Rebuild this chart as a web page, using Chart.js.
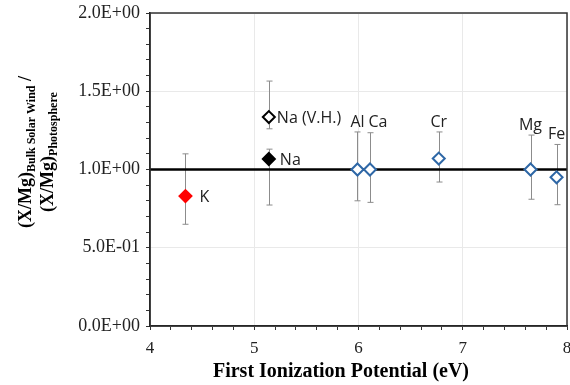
<!DOCTYPE html>
<html>
<head>
<meta charset="utf-8">
<script src="https://cdn.jsdelivr.net/npm/chart.js@4.4.1/dist/chart.umd.min.js"></script>
<style>
  html, body { margin: 0; padding: 0; background: #fff; overflow: hidden; }
  #wrap { width: 570px; height: 385px; overflow: hidden; }
</style>
</head>
<body>
<div id="wrap"><canvas id="fipChart" width="575" height="385"></canvas></div>
<script>
// data
const elements = ['K', 'Na (V.H.)', 'Na', 'Al', 'Ca', 'Cr', 'Mg', 'Fe'];
const fip = [4.34, 5.14, 5.14, 5.99, 6.11, 6.77, 7.65, 7.90];
const ratio = [0.83, 1.335, 1.067, 1.00, 1.00, 1.07, 1.00, 0.95];
const errHigh = [1.10, 1.565, 1.13, 1.24, 1.235, 1.24, 1.22, 1.16];
const errLow = [0.65, 1.26, 0.773, 0.80, 0.79, 0.92, 0.81, 0.775];
const refLine = [1, 1];
const refX = [4, 8];
const xTickLabels = ['4', '5', '6', '7', '8'];
const yTickLabels = ['0.0E+00', '5.0E-01', '1.0E+00', '1.5E+00', '2.0E+00'];
const xTitle = 'First Ionization Potential (eV)';

// marker styling per point
const markerFill = ['#ff0000', '#ffffff', '#000000', '#ffffff', '#ffffff', '#ffffff', '#ffffff', '#ffffff'];
const markerLine = ['#ff0000', '#000000', '#000000', '#2e67a6', '#2e67a6', '#2e67a6', '#2e67a6', '#2e67a6'];
// label placement: 'right' of marker or 'top' over the error bar
const labelPos = [
    { side: 'right', dx: 14 },
    { side: 'right', dx: 8 },
    { side: 'right', dx: 11 },
    { side: 'top', dx: 0 },
    { side: 'top', dx: 8 },
    { side: 'top', dx: 0 },
    { side: 'top', dx: 0 },
    { side: 'top', dx: 0 }
];

const isMajor = (v, step) => Math.abs(v / step - Math.round(v / step)) < 1e-6;

// error bars under the markers
const errorBars = {
    id: 'errorBars',
    beforeDatasetsDraw(chart) {
        const { ctx, scales: { x, y } } = chart;
        ctx.save();
        ctx.strokeStyle = '#8c8c8c';
        ctx.lineWidth = 1;
        fip.forEach((v, i) => {
            const px = Math.round(x.getPixelForValue(v)) + 0.5;
            const top = y.getPixelForValue(errHigh[i]);
            const bot = y.getPixelForValue(errLow[i]);
            ctx.beginPath();
            ctx.moveTo(px, top); ctx.lineTo(px, bot);
            ctx.moveTo(px - 3, top); ctx.lineTo(px + 3, top);
            ctx.moveTo(px - 3, bot); ctx.lineTo(px + 3, bot);
            ctx.stroke();
        });
        ctx.restore();
    }
};

// element names, box, axis titles
const decorations = {
    id: 'decorations',
    afterDatasetsDraw(chart) {
        const { ctx, chartArea: a, scales: { x, y } } = chart;
        ctx.save();
        ctx.font = '16px "Open Sans", "Liberation Sans", sans-serif';
        ctx.fillStyle = '#222';
        elements.forEach((name, i) => {
            const px = x.getPixelForValue(fip[i]);
            const lp = labelPos[i];
            if (lp.side === 'right') {
                ctx.textAlign = 'left';
                ctx.textBaseline = 'middle';
                ctx.fillText(name, px + lp.dx, y.getPixelForValue(ratio[i]) + 1);
            } else {
                ctx.textAlign = 'center';
                ctx.textBaseline = 'middle';
                ctx.fillText(name, px + lp.dx, y.getPixelForValue(errHigh[i]) - 10);
            }
        });

        // frame
        ctx.strokeStyle = '#333';
        ctx.lineWidth = 1.5;
        ctx.strokeRect(a.left, a.top, a.right - a.left, a.bottom - a.top);

        // x title (centred on the page like the original)
        ctx.font = 'bold 20px "Liberation Serif", serif';
        ctx.fillStyle = '#000';
        ctx.textAlign = 'center';
        ctx.textBaseline = 'middle';
        ctx.fillText(xTitle, 341, 372);

        // rotated y title
        const cy = 152;
        ctx.translate(0, cy);
        ctx.rotate(-Math.PI / 2);
        drawSubTitle(ctx, [['(X/Mg)', false], ['Bulk Solar Wind', true], [' /', false]], 0, 31);
        drawSubTitle(ctx, [['(X/Mg)', false], ['Photosphere', true]], 0, 53);
        ctx.restore();
    }
};

function drawSubTitle(ctx, parts, cx, baseY) {
    const big = 'bold 18px "Liberation Serif", serif';
    const small = 'bold 12px "Liberation Serif", serif';
    let total = 0;
    parts.forEach(([t, sub]) => { ctx.font = sub ? small : big; total += ctx.measureText(t).width; });
    let px = cx - total / 2;
    ctx.textAlign = 'left';
    ctx.textBaseline = 'alphabetic';
    ctx.fillStyle = '#000';
    parts.forEach(([t, sub]) => {
        ctx.font = sub ? small : big;
        ctx.fillText(t, px, sub ? baseY + 4 : baseY);
        px += ctx.measureText(t).width;
    });
}

new Chart(document.getElementById('fipChart'), {
    type: 'scatter',
    data: {
        datasets: [
            {
                label: 'ratio',
                data: fip.map((v, i) => ({ x: v, y: ratio[i] })),
                pointStyle: 'rectRot',
                pointRadius: 6,
                pointBorderWidth: 2,
                pointBackgroundColor: markerFill,
                pointBorderColor: markerLine,
                order: 0
            },
            {
                label: 'unity',
                type: 'line',
                data: refX.map((v, i) => ({ x: v, y: refLine[i] })),
                borderColor: '#000',
                borderWidth: 2.5,
                pointRadius: 0,
                order: 1
            }
        ]
    },
    options: {
        responsive: false,
        animation: false,
        layout: { padding: { top: 13, right: 3, left: 0, bottom: 0 } },
        plugins: { legend: { display: false }, tooltip: { enabled: false } },
        scales: {
            x: {
                type: 'linear',
                min: 4, max: 8,
                border: { color: '#000', width: 1.5 },
                grid: {
                    color: c => isMajor(c.tick.value, 1) ? '#e9e9e9' : 'rgba(0,0,0,0)',
                    tickColor: '#333',
                    tickLength: 4
                },
                afterFit: s => { s.height = 59; s.paddingRight = 0; s.paddingLeft = 0; },
                ticks: {
                    stepSize: 0.2,
                    autoSkip: false,
                    maxRotation: 0,
                    color: '#222',
                    padding: 8,
                    font: { family: '"Liberation Serif", serif', size: 17 },
                    callback: v => isMajor(v, 1) ? xTickLabels[Math.round(v) - 4] : ''
                }
            },
            y: {
                min: 0, max: 2,
                border: { color: '#000', width: 1.5 },
                grid: {
                    color: c => isMajor(c.tick.value, 0.5) ? '#e9e9e9' : 'rgba(0,0,0,0)',
                    tickColor: '#333',
                    tickLength: 4
                },
                afterFit: s => { s.width = 150; s.paddingTop = 0; s.paddingBottom = 0; },
                ticks: {
                    stepSize: 0.1,
                    autoSkip: false,
                    color: '#222',
                    padding: 6,
                    font: { family: '"Liberation Serif", serif', size: 18 },
                    callback: v => isMajor(v, 0.5) ? yTickLabels[Math.round(v * 2)] : ''
                }
            }
        }
    },
    plugins: [errorBars, decorations]
});
</script>
</body>
</html>
